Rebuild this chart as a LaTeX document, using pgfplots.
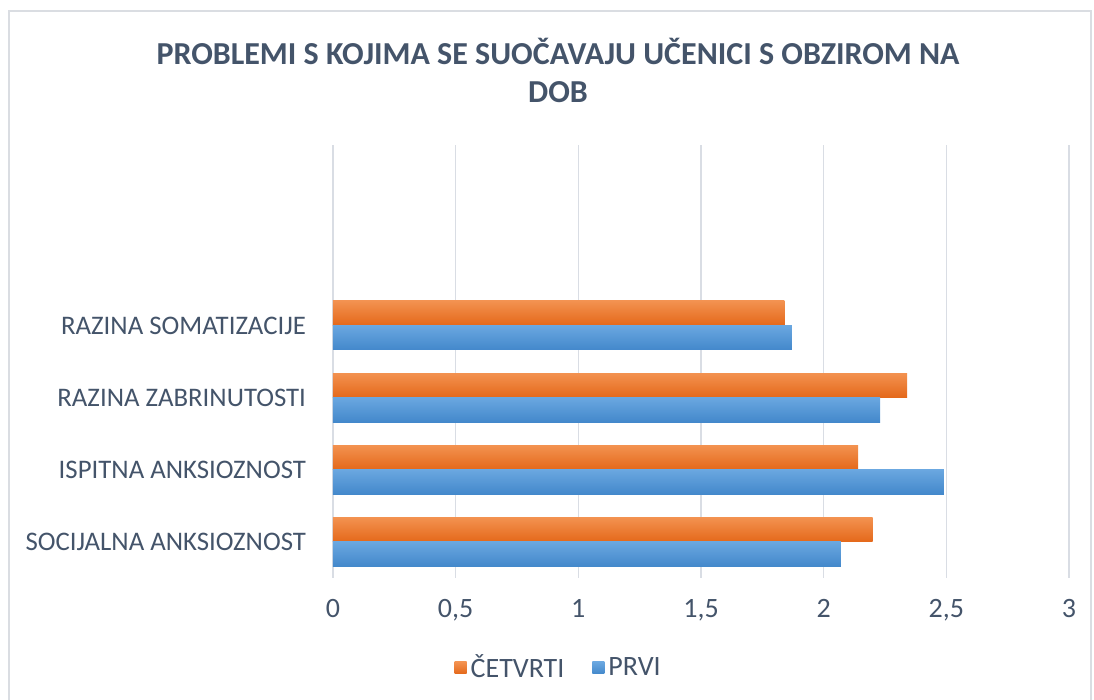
\documentclass[border=0pt]{standalone}
\usepackage{fontspec}
\setmainfont{Carlito}
\usepackage{pgfplots}
\pgfplotsset{compat=1.18}
\definecolor{txt}{HTML}{44546A}
\definecolor{gridc}{HTML}{D9DDE4}
\definecolor{oT}{HTML}{F39250}
\definecolor{oB}{HTML}{E4681A}
\definecolor{bT}{HTML}{6AA7E0}
\definecolor{bB}{HTML}{4388CB}
\definecolor{framec}{HTML}{DADDE2}
\pgfplotsset{
 ostyle/.style={draw=none, top color=oT, bottom color=oB, bar shift=0.17},
 bstyle/.style={draw=none, top color=bT, bottom color=bB, bar shift=-0.17},
}
\begin{document}
\begin{tikzpicture}
\useasboundingbox (-166.5pt,-61pt) rectangle (380.5pt,289pt);
\draw[framec,line width=0.6pt] (-162pt,-70pt) -- (-162pt,283.5pt) -- (379pt,283.5pt) -- (379pt,-70pt);
\begin{axis}[
 at={(0,0)}, anchor=south west,
 scale only axis, width=368pt, height=216.5pt,
 xbar, bar width=0.34,
 xmin=0, xmax=3, ymin=0.5, ymax=6.5,
 xtick={0,0.5,1,1.5,2,2.5,3}, ytick={1,2,3,4},
 yticklabels={SOCIJALNA ANKSIOZNOST, ISPITNA ANKSIOZNOST, RAZINA ZABRINUTOSTI, RAZINA SOMATIZACIJE},
 xmajorgrids, grid style={gridc, line width=0.8pt},
 axis line style={draw=none}, major tick length=0pt,
 tick label style={font=\fontsize{14}{17}\selectfont, text=txt},
 yticklabel style={xshift=-10pt, font=\fontsize{13.4}{16}\selectfont},
 xticklabel style={yshift=-7pt},
 /pgf/number format/use comma,
 /pgf/number format/assume math mode=true,
 legend columns=2,
 legend style={draw=none, at={(0.308,0)}, anchor=center, yshift=-45pt,
   font=\fontsize{14}{17}\selectfont, text=txt,
   /tikz/every even column/.append style={column sep=12pt}},
 legend image code/.code={\path[#1] (0pt,-3pt) rectangle (6pt,3pt);},
]
\addplot[ostyle] coordinates {(2.20,1)};
\addlegendentry{ČETVRTI}
\addplot[ostyle, forget plot] coordinates {(2.14,2)};
\addplot[ostyle, forget plot] coordinates {(2.34,3)};
\addplot[ostyle, forget plot] coordinates {(1.84,4)};
\addplot[bstyle] coordinates {(2.07,1)};
\addlegendentry{PRVI}
\addplot[bstyle, forget plot] coordinates {(2.49,2)};
\addplot[bstyle, forget plot] coordinates {(2.23,3)};
\addplot[bstyle, forget plot] coordinates {(1.87,4)};
\end{axis}
\node[font=\bfseries\fontsize{16}{19}\selectfont, text=txt, align=center] at (112.5pt,254pt) {PROBLEMI S KOJIMA SE SUOČAVAJU UČENICI S OBZIROM NA\\DOB};
\end{tikzpicture}
\end{document}
